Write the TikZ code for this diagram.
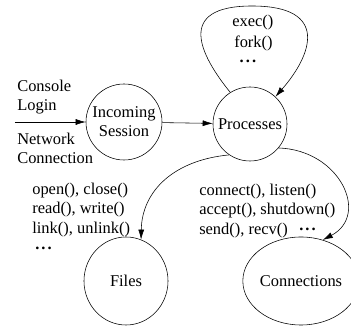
\documentclass[tikz,border=0pt]{standalone}
\usepackage{fontspec}
\setmainfont{Liberation Serif}
\usepackage{tikz}
\usetikzlibrary{positioning, shapes.geometric, arrows.meta}
\newcommand{\calldots}{\textbf{.\kern1.5pt.\kern1.5pt.}}
\tikzset{
	state/.style={
		draw,
		circle,
		align=center,
		inner sep=0pt,
	},
	blob/.style={
		draw,
		ellipse,
		inner sep=0pt,
	},
	calls/.style={
		align=left,
		anchor=west,
		inner sep=0pt,
	},
	moredots/.style={
		inner sep=0pt,
	}
}

\begin{document}
\begin{tikzpicture}[
	x=0.025cm, y=-0.025cm,
	font=\fontsize{11.7pt}{13.6pt}\selectfont,
	>={Latex[length=2.5mm, width=1.5mm]}
	]
	\useasboundingbox (0,0) rectangle (351,327);
	\node[state, minimum size=1.9cm](incoming) at (124,122){Incoming\\Session};
	\node[state, minimum size=1.85cm](proc) at (250,124){Processes};
	\node[blob, minimum width=2.1cm, minimum height=2.2cm](files) at (126,281){Files};
	\node[blob, minimum width=2.45cm, minimum height=2.2cm](conn) at (301,281){Connections};
	% where sessions come from
	\coordinate (src) at (15,122);
	\node[calls](console) at (17,97){Console\\Login};
	\node[calls](network) at (17,148){Network\\Connection};
	\draw[->] (src) to (incoming);
	\draw[->] (incoming) to (proc);
	% process calls
	\draw[->] (proc.122) .. controls (200,55) and (175,6) .. (252,6)
		.. controls (330,6) and (312,55) .. (proc.47);
	\node[calls](exec) at (232,23){exec()};
	\node[calls](fork) at (234,43){fork()};
	\node[moredots](pdots) at (248,61){\calldots};
	% file calls
	\draw[->] (proc.236) .. controls (175,160) and (142,190) .. (files.70);
	\node[calls](filecalls) at (32,210){open(), close()\\read(), write()\\link(), unlink()};
	\node[moredots, anchor=west](fdots) at (35,248){\calldots};
	% socket calls
	\draw[->] (proc.-40) .. controls (340,150) and (370,215) .. (conn.62);
	\node[calls](conncalls) at (199,211){connect(), listen()\\accept(), shutdown()\\send(), recv()\phantom{X}};
	\node[moredots, anchor=west](cdots) at (299,229){\calldots};
\end{tikzpicture}
\end{document}
